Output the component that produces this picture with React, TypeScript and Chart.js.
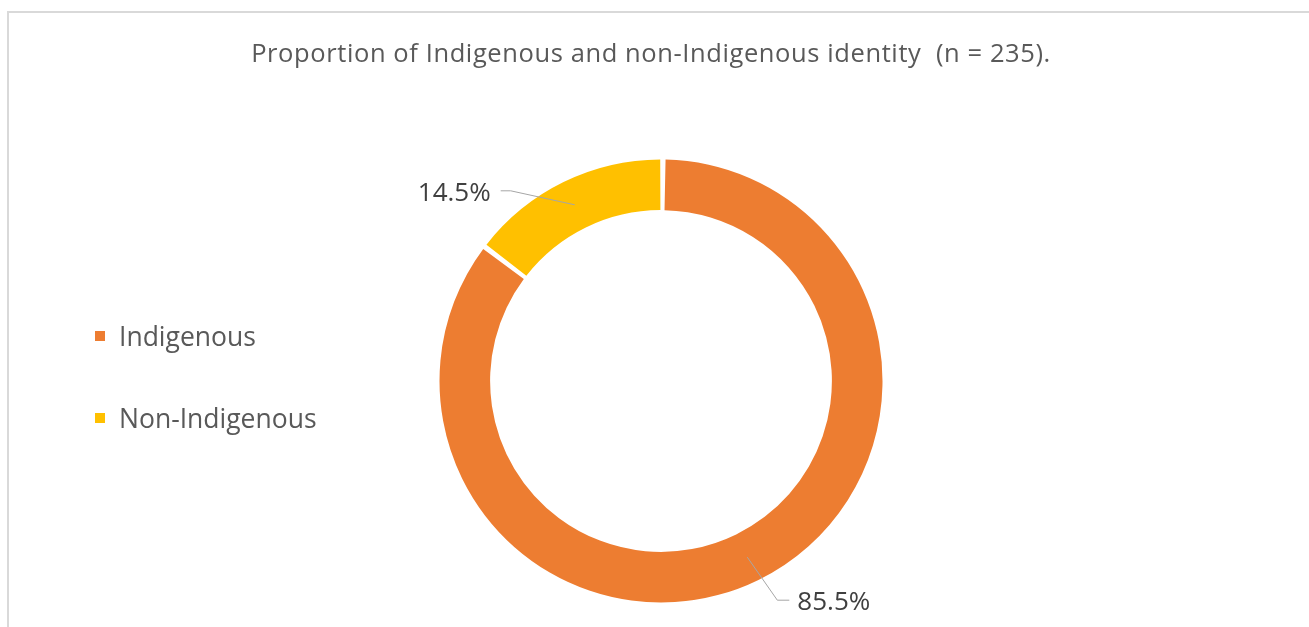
import React, { useEffect, useRef } from "react";
import { Chart, registerables } from "chart.js";

Chart.register(...registerables);

// ---- data ----
const TITLE = "Proportion of Indigenous and non-Indigenous identity  (n = 235).";
const categories = ["Indigenous", "Non-Indigenous"];
const percentages = [85.5, 14.5];
const colors = ["#ED7D31", "#FFC000"];

// ---- style ----
const FONT = "'Open Sans', 'Noto Sans', sans-serif";
const TEXT_GREY = "#595959";
const LABEL_GREY = "#404040";
const LEADER_GREY = "#A6A6A6";

const TITLE_STYLE = { x: 651, baseline: 62, size: 25.5, spacing: "0.6px" };
const LEGEND_STYLE = { squareX: 95, textX: 119, firstBaseline: 346, step: 82, size: 26.5, square: 10 };
// leader line offsets relative to the arc's centre point
const CALLOUTS = [
  { elbow: [30, 43], end: [42, 43], gap: 8, align: "left" },
  { elbow: [-64, -14], end: [-74, -14], gap: 10, align: "right" },
];

const decorPlugin = {
  id: "decor",
  afterDraw(chart: any) {
    const ctx = chart.ctx as CanvasRenderingContext2D;
    ctx.save();
    // title
    ctx.font = `${TITLE_STYLE.size}px ${FONT}`;
    (ctx as any).letterSpacing = TITLE_STYLE.spacing;
    ctx.fillStyle = TEXT_GREY;
    ctx.textAlign = "center";
    ctx.textBaseline = "alphabetic";
    ctx.fillText(TITLE, TITLE_STYLE.x, TITLE_STYLE.baseline);
    (ctx as any).letterSpacing = "0px";

    // legend
    const labels: string[] = chart.data.labels;
    const bg: string[] = chart.data.datasets[0].backgroundColor;
    ctx.font = `${LEGEND_STYLE.size}px ${FONT}`;
    ctx.textAlign = "left";
    labels.forEach((lab, i) => {
      const base = LEGEND_STYLE.firstBaseline + i * LEGEND_STYLE.step;
      ctx.fillStyle = bg[i];
      ctx.fillRect(LEGEND_STYLE.squareX, base - 15, LEGEND_STYLE.square, LEGEND_STYLE.square);
      ctx.fillStyle = TEXT_GREY;
      ctx.fillText(lab, LEGEND_STYLE.textX, base);
    });

    // callout labels
    const meta = chart.getDatasetMeta(0);
    const values: number[] = chart.data.datasets[0].data;
    ctx.font = `26px ${FONT}`;
    meta.data.forEach((arc: any, i: number) => {
      const c = CALLOUTS[i];
      const p = arc.getCenterPoint();
      const ex = p.x + c.elbow[0];
      const ey = p.y + c.elbow[1];
      const fx = p.x + c.end[0];
      const fy = p.y + c.end[1];
      ctx.strokeStyle = LEADER_GREY;
      ctx.lineWidth = 1;
      ctx.beginPath();
      ctx.moveTo(p.x, p.y);
      ctx.lineTo(ex, ey);
      ctx.lineTo(fx, fy);
      ctx.stroke();
      ctx.fillStyle = LABEL_GREY;
      ctx.textAlign = c.align as CanvasTextAlign;
      ctx.textBaseline = "alphabetic";
      const tx = c.align === "left" ? fx + c.gap : fx - c.gap;
      ctx.fillText(values[i].toFixed(1) + "%", tx, fy + 10);
    });
    ctx.restore();
  },
};

export default function App() {
  const ref = useRef<HTMLCanvasElement | null>(null);
  useEffect(() => {
    document.body.style.margin = "0";
    if (!ref.current) return;
    const chart = new Chart(ref.current, {
      type: "doughnut",
      data: {
        labels: categories,
        datasets: [
          {
            data: percentages,
            backgroundColor: colors,
            borderWidth: 0,
            spacing: 3,
          },
        ],
      },
      options: {
        responsive: false,
        animation: false,
        cutout: "77%",
        layout: { padding: { top: 159.5, bottom: 24.5, left: 439.5, right: 426.5 } },
        plugins: {
          legend: { display: false },
          title: { display: false },
          tooltip: { enabled: false },
        },
      },
      plugins: [decorPlugin],
    });
    return () => chart.destroy();
  }, []);
  return (
    <div style={{ position: "relative", width: 1309, height: 627, overflow: "hidden", background: "#fff" }}>
      <div
        style={{
          position: "absolute",
          left: 7,
          top: 11,
          width: 1400,
          height: 700,
          borderTop: "2px solid #D9D9D9",
          borderLeft: "2px solid #D9D9D9",
        }}
      />
      <canvas ref={ref} width={1309} height={627} style={{ position: "absolute", left: 0, top: 0 }} />
    </div>
  );
}
